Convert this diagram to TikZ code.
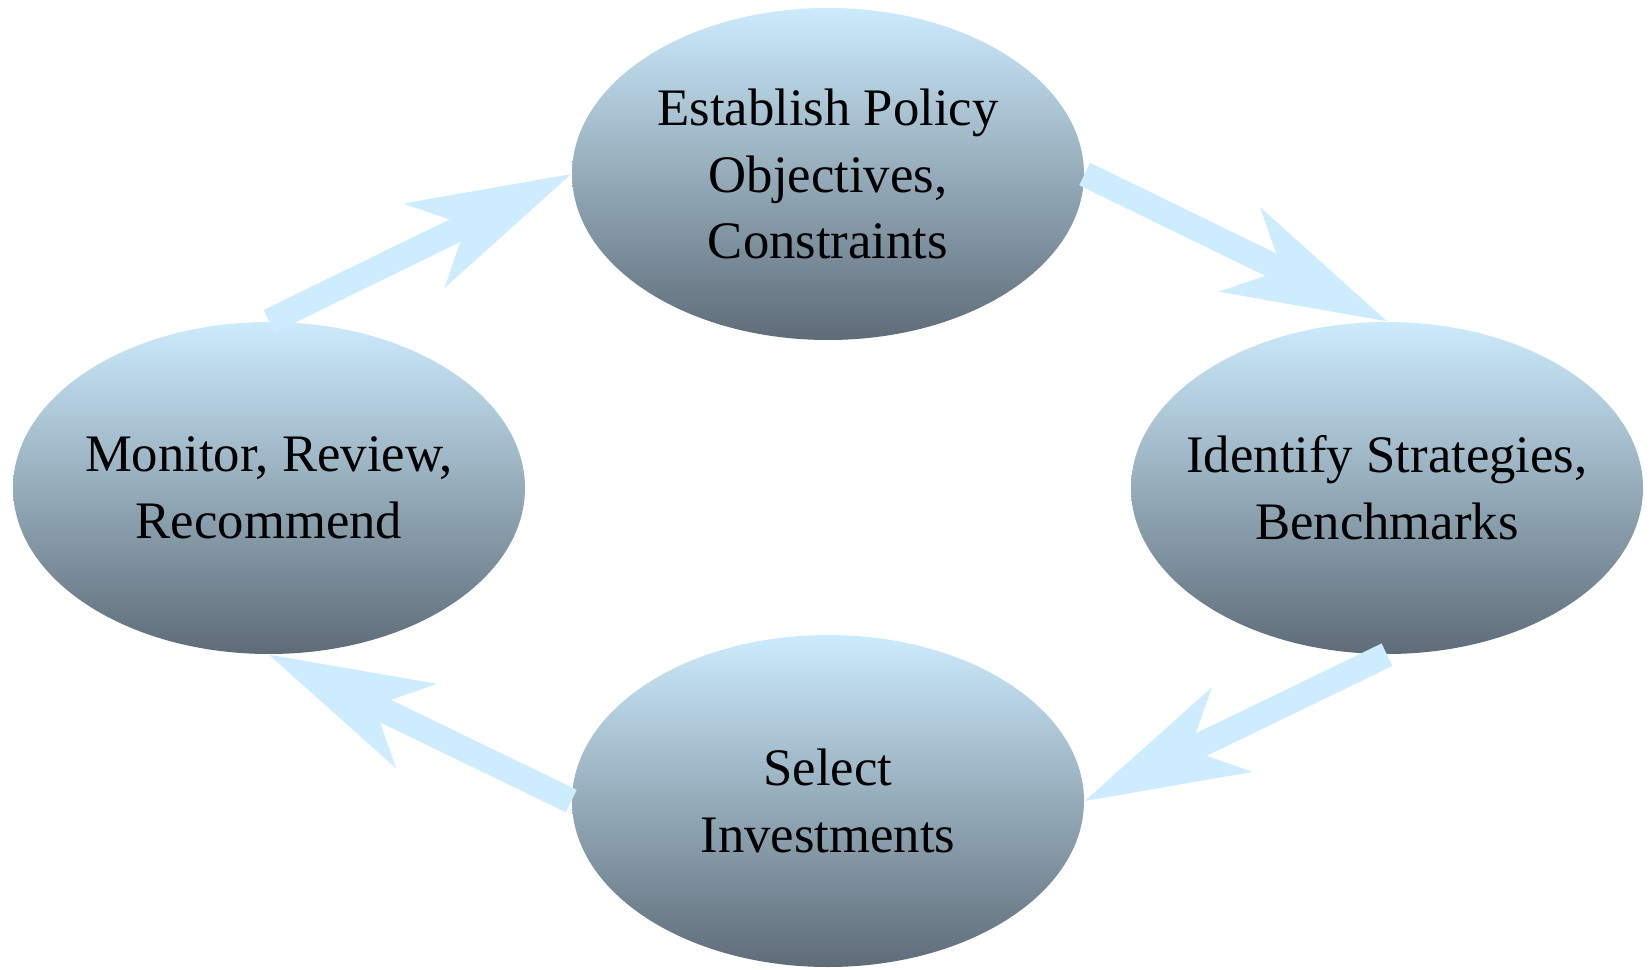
\documentclass[tikz,border=0pt]{standalone}
\usepackage{fontspec}
\setmainfont{Liberation Serif}
\usetikzlibrary{arrows.meta,shapes.geometric}

\definecolor{pale}{RGB}{204,235,252}
\definecolor{slate}{RGB}{94,108,120}
\definecolor{flow}{RGB}{205,236,255}

\tikzset{
	stage/.style={ellipse, minimum width=5.12cm, minimum height=3.32cm, inner xsep=-2cm, inner ysep=-1cm,
		top color=pale, bottom color=slate, align=center, font=\fontsize{15}{19}\selectfont},
	flowarrow/.style={draw=flow, line width=0.25cm,
		-{Stealth[length=1.64cm, width=0.94cm, inset=0.47cm, line width=0pt]}}
}

\begin{document}
\begin{tikzpicture}
		\useasboundingbox (0,0) rectangle (16.5,9.69);

		\node[stage] (policy) at (8.28,7.95) {Establish Policy\\Objectives,\\Constraints};
		\node[stage] (strategies) at (13.87,4.81) {Identify Strategies,\\Benchmarks};
		\node[stage] (select) at (8.28,1.68) {Select\\Investments};
		\node[stage] (monitor) at (2.69,4.81) {Monitor, Review,\\Recommend};

		\draw[flowarrow] (monitor.north) -- (policy.west);
		\draw[flowarrow] (policy.east) -- (strategies.north);
		\draw[flowarrow] (strategies.south) -- (select.east);
		\draw[flowarrow] (select.west) -- (monitor.south);

	\end{tikzpicture}
\end{document}
